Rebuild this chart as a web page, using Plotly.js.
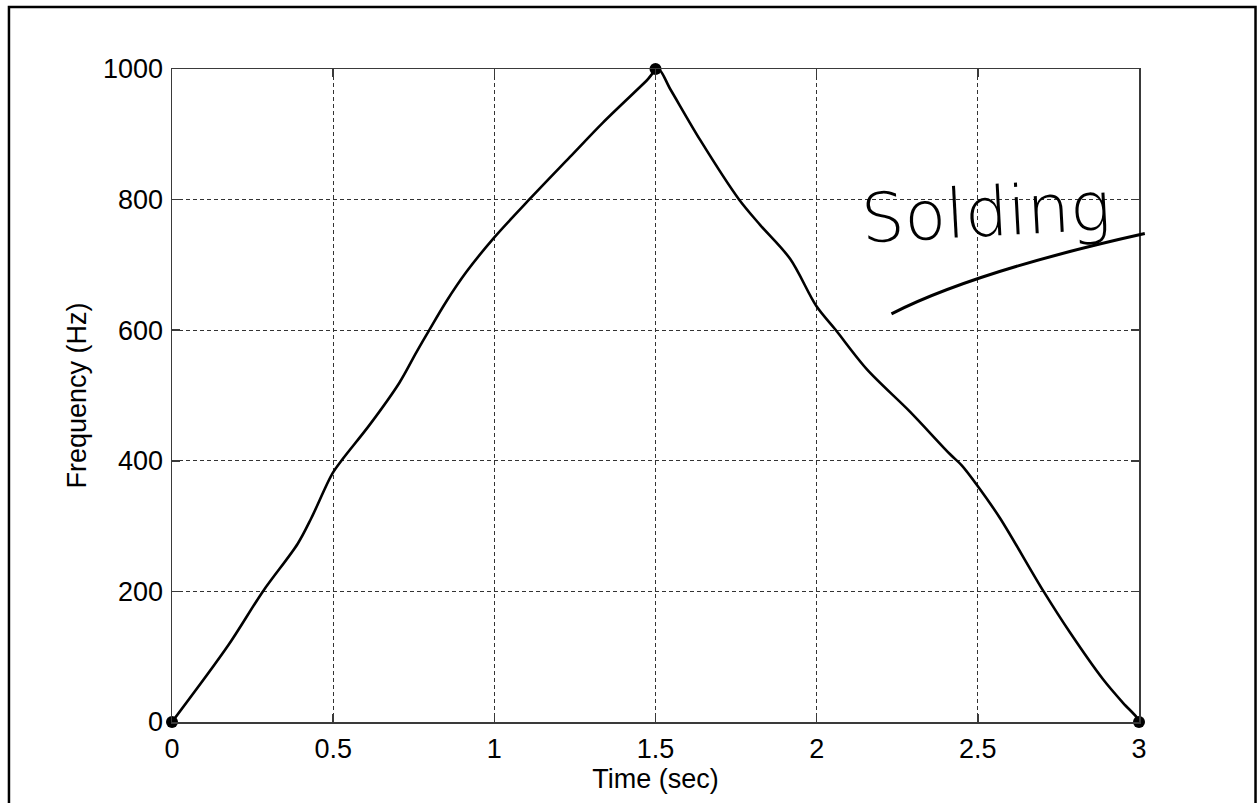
<!DOCTYPE html>
<html>
<head>
<meta charset="utf-8">
<script src="https://cdn.plot.ly/plotly-3.0.1.min.js"></script>
<style>
  html, body { margin: 0; padding: 0; background: #fff; }
  #chart { width: 1257px; height: 803px; }
</style>
</head>
<body>
<div id="chart"></div>
<script>
// Hand-drawn sweep curve
const timeSec = [0, 0.174, 0.282, 0.390, 0.432, 0.497, 0.530, 0.613, 0.706, 0.758, 0.799, 0.851, 0.913, 0.998, 1.110, 1.234, 1.337, 1.472, 1.508,
                 1.546, 1.639, 1.758, 1.825, 1.918, 1.999, 2.058, 2.156, 2.290, 2.414, 2.450, 2.500, 2.569, 2.704, 2.786, 2.889, 2.951, 2.993, 3.0];
const freqHz  = [0, 117, 200, 273, 312, 380, 403, 455, 520, 566, 601, 644, 689, 741, 801, 865, 918, 982, 1000,
                 969, 891, 801, 761, 709, 637, 601, 540, 475, 410, 393, 361, 312, 200, 137, 65, 29, 7, 0];
// Ink dots at the corners of the sketch
const dotTimes = [0, 1.5, 3];
const dotFreqs = [0, 1000, 0];
// Tick values / labels
const xTicks = [0, 0.5, 1, 1.5, 2, 2.5, 3];
const xTickLabels = ["0", "0.5", "1", "1.5", "2", "2.5", "3"];
const yTicks = [0, 200, 400, 600, 800, 1000];
const yTickLabels = ["0", "200", "400", "600", "800", "1000"];
const noteText = "Solding";

const FONT = "Liberation Sans, Arial, sans-serif";

const traces = [
  {
    x: timeSec, y: freqHz, type: "scatter", mode: "lines",
    line: { color: "#000", width: 2.6, shape: "spline", smoothing: 0.9 },
    cliponaxis: false, hoverinfo: "skip", showlegend: false
  },
  {
    x: dotTimes, y: dotFreqs, type: "scatter", mode: "markers",
    marker: { color: "#000", size: 12 },
    cliponaxis: false, hoverinfo: "skip", showlegend: false
  }
];

const axisCommon = {
  showline: true, mirror: "ticks", linecolor: "#3a3a3a", linewidth: 1.5,
  ticks: "inside", ticklen: 8, tickwidth: 1.5, tickcolor: "#3a3a3a",
  showgrid: true, gridcolor: "#333", gridwidth: 1, griddash: "4px,3px",
  zeroline: false, tickfont: { family: FONT, size: 27, color: "#000" }
};

const layout = {
  width: 1257, height: 803,
  margin: { l: 172, r: 118, t: 69, b: 81 },
  paper_bgcolor: "#fff", plot_bgcolor: "#fff",
  showlegend: false,
  xaxis: Object.assign({}, axisCommon, {
    range: [0, 3], tickvals: xTicks, ticktext: xTickLabels,
    ticklabelstandoff: 2,
    title: { text: "Time (sec)", font: { family: FONT, size: 27, color: "#000" }, standoff: 4 }
  }),
  yaxis: Object.assign({}, axisCommon, {
    range: [0, 1000], tickvals: yTicks, ticktext: yTickLabels,
    ticklabelstandoff: 2,
    title: { text: "Frequency (Hz)", font: { family: FONT, size: 27, color: "#000" }, standoff: 8 }
  }),
  annotations: [
    {
      text: noteText, xref: "paper", yref: "paper", x: 0.842, y: 0.78,
      xanchor: "center", yanchor: "middle", showarrow: false, textangle: -3,
      font: { family: "DejaVu Sans, sans-serif", size: 68, color: "#000", weight: 200 }
    }
  ],
  shapes: [
    { type: "path", xref: "paper", yref: "paper", path: "M0.744,0.625 Q0.83,0.69 1.006,0.748",
      line: { color: "#000", width: 3 } },
    { type: "rect", xref: "paper", yref: "paper", x0: -0.1686, x1: 1.1205, y0: -0.2, y1: 1.095,
      line: { color: "#000", width: 2.5 }, layer: "below" }
  ]
};

Plotly.newPlot("chart", traces, layout, { staticPlot: true, displayModeBar: false });
</script>
</body>
</html>
